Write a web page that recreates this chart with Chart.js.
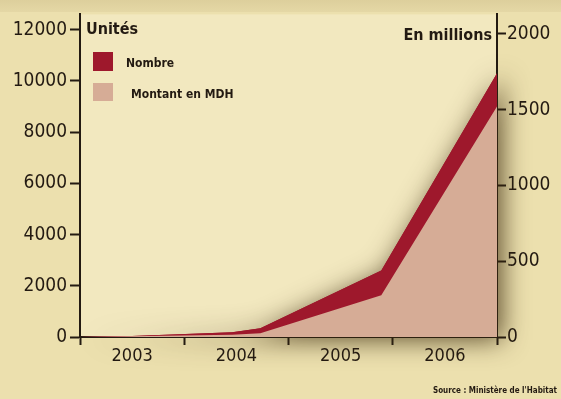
<!DOCTYPE html>
<html>
<head>
<meta charset="utf-8">
<script src="https://cdn.jsdelivr.net/npm/chart.js@4.4.1/dist/chart.umd.min.js"></script>
<style>
  html, body { margin: 0; padding: 0; background: #ece0ae; }
</style>
</head>
<body>
<canvas id="myChart" width="561" height="399"></canvas>
<script>
// positions on the time axis are in years (2003.0 = start of 2003)
var years = [2003, 2003.5, 2004.46, 2004.73, 2005.89, 2007];
var nombre = [0, 40, 190, 340, 2600, 10300];     // unités
var montant = [0, 5, 15, 25, 275, 1520];         // en millions de DH
var yearLabels = ['2003', '2004', '2005', '2006'];
var leftTicks = [0, 2000, 4000, 6000, 8000, 10000, 12000];
var rightTicks = [0, 500, 1000, 1500, 2000];

var ink = '#231a12';
var rouge = 'rgb(158, 24, 44)';
var rose = 'rgb(214, 172, 150)';
var narrow = "'DejaVu Sans Condensed', 'Liberation Sans', sans-serif";
var firstYear = parseInt(yearLabels[0]);

function pts(vals) {
  return vals.map(function (v, i) { return { x: years[i], y: v }; });
}

// backdrop, soft shadow under the areas, legend, titles and source line
var decor = {
  id: 'decor',
  beforeDraw: function (chart) {
    var c = chart.ctx, a = chart.chartArea;
    c.save();
    c.fillStyle = '#ece0ae';
    c.fillRect(0, 0, chart.width, chart.height);
    var g = c.createLinearGradient(0, 0, 0, 14);
    g.addColorStop(0, '#ddcf9c');
    g.addColorStop(1, '#e6d9a7');
    c.fillStyle = g;
    c.fillRect(0, 0, chart.width, 12);
    c.fillStyle = '#f2e8bf';
    c.fillRect(a.left, a.top, a.right - a.left, a.bottom - a.top);
    c.restore();
  },
  beforeDatasetsDraw: function (chart) {
    // the outline of the upper area, filled once with a blurred shadow
    var meta = chart.getDatasetMeta(0);
    var base = chart.scales.y.getPixelForValue(0);
    var pts = meta.data;
    if (!pts.length) return;
    var c = chart.ctx;
    c.save();
    c.shadowColor = 'rgba(60, 42, 15, 0.8)';
    c.shadowBlur = 26;
    c.shadowOffsetX = 5;
    c.shadowOffsetY = 3;
    c.fillStyle = rouge;
    c.beginPath();
    c.moveTo(pts[0].x, base);
    pts.forEach(function (p) { c.lineTo(p.x, p.y); });
    c.lineTo(pts[pts.length - 1].x, base);
    c.closePath();
    c.fill();
    c.restore();
  },
  afterDraw: function (chart) {
    var c = chart.ctx;
    c.save();
    c.fillStyle = ink;
    c.textBaseline = 'alphabetic';

    c.font = 'bold 16px ' + narrow;
    c.textAlign = 'left';
    c.fillText('Unités', 86, 34);
    c.textAlign = 'right';
    c.fillText('En millions', 492, 40);

    // legend
    var ds = chart.data.datasets;
    c.textAlign = 'left';
    c.font = 'bold 12px ' + narrow;
    c.fillStyle = ds[0].backgroundColor;
    c.fillRect(93, 52, 20, 19);
    c.fillStyle = ds[1].backgroundColor;
    c.fillRect(93, 83, 20, 18);
    c.fillStyle = ink;
    c.fillText(ds[0].label, 126, 67);
    c.fillText(ds[1].label, 131, 98);

    c.font = 'bold 8px ' + narrow;
    c.textAlign = 'right';
    c.fillText("Source : Ministère de l'Habitat", 557, 393);
    c.restore();
  }
};

var ctx = document.getElementById('myChart').getContext('2d');
var myChart = new Chart(ctx, {
  type: 'line',
  data: {
    datasets: [{
      label: 'Nombre',
      data: pts(nombre),
      yAxisID: 'y',
      backgroundColor: rouge,
      borderWidth: 0,
      fill: 'origin',
      pointRadius: 0,
      tension: 0,
      order: 2
    }, {
      label: 'Montant en MDH',
      data: pts(montant),
      yAxisID: 'y1',
      backgroundColor: rose,
      borderWidth: 0,
      fill: 'origin',
      pointRadius: 0,
      tension: 0,
      order: 1
    }]
  },
  options: {
    responsive: false,
    animation: false,
    layout: { padding: { top: 12 } },
    plugins: { legend: { display: false }, tooltip: { enabled: false } },
    scales: {
      x: {
        type: 'linear',
        min: firstYear,
        max: firstYear + yearLabels.length,
        afterBuildTicks: function (axis) {
          var t = [];
          for (var i = 0; i < yearLabels.length; i++) {
            t.push({ value: firstYear + i });
            t.push({ value: firstYear + i + 0.5 });
          }
          t.push({ value: firstYear + yearLabels.length });
          axis.ticks = t;
        },
        afterFit: function (s) { s.height = 62; },
        ticks: {
          autoSkip: false,
          maxRotation: 0,
          padding: 1,
          color: ink,
          font: { family: narrow, size: 18 },
          callback: function (v) {
            return v % 1 ? yearLabels[Math.floor(v) - firstYear] : '';
          }
        },
        grid: {
          drawOnChartArea: false,
          tickLength: 8,
          tickWidth: 2,
          tickColor: function (ctx) {
            return ctx.tick && ctx.tick.value % 1 === 0 ? ink : 'rgba(0,0,0,0)';
          }
        },
        border: { color: ink, width: 2 }
      },
      y: {
        position: 'left',
        min: 0,
        max: 12600,
        afterBuildTicks: function (axis) {
          axis.ticks = leftTicks.map(function (v) { return { value: v }; });
        },
        afterFit: function (s) { s.width = 80; },
        ticks: {
          padding: 3,
          color: ink,
          font: { family: narrow, size: 19 },
          callback: function (v) { return String(v); }
        },
        grid: { drawOnChartArea: false, tickLength: 10, tickWidth: 2, tickColor: ink },
        border: { color: ink, width: 2 }
      },
      y1: {
        position: 'right',
        min: 0,
        max: 2128,
        afterBuildTicks: function (axis) {
          axis.ticks = rightTicks.map(function (v) { return { value: v }; });
        },
        afterFit: function (s) { s.width = 64; },
        ticks: {
          padding: 1,
          color: ink,
          font: { family: narrow, size: 19 },
          callback: function (v) { return String(v); }
        },
        grid: { drawOnChartArea: false, tickLength: 9, tickWidth: 2, tickColor: ink },
        border: { color: ink, width: 2 }
      }
    }
  },
  plugins: [decor]
});
</script>
</body>
</html>
